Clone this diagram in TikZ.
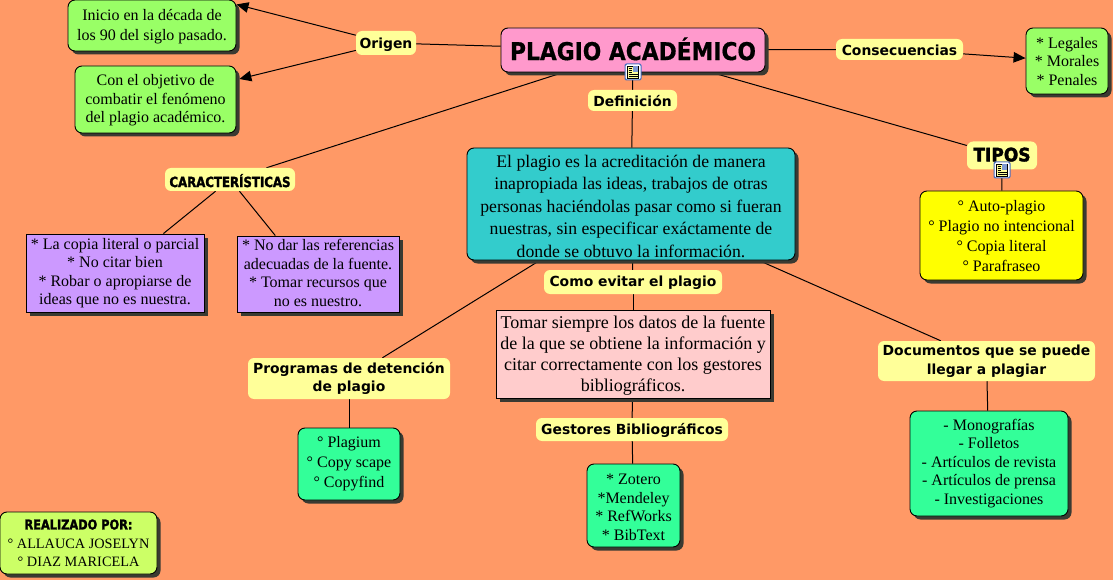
\documentclass[tikz,border=0pt]{standalone}
\usepackage{fontspec}
\setmainfont{Liberation Serif}
\newfontfamily\lblfont{DejaVu Sans}
\newfontfamily\heavyfont[FakeStretch=0.84,FakeBold=1.8]{DejaVu Sans Bold}
\newfontfamily\titlefont[FakeStretch=0.89,FakeBold=0.6]{DejaVu Sans Bold}
\newfontfamily\tiposfont[FakeStretch=0.92,FakeBold=2]{DejaVu Sans Bold}
\usetikzlibrary{shadows,backgrounds,arrows.meta}
\definecolor{bgc}{HTML}{FF9966}
\definecolor{pinkc}{HTML}{FF99CC}
\definecolor{greenc}{HTML}{99FF66}
\definecolor{tealc}{HTML}{33CCCC}
\definecolor{yelc}{HTML}{FFFF00}
\definecolor{purc}{HTML}{CC99FF}
\definecolor{rosec}{HTML}{FFCCCC}
\definecolor{seac}{HTML}{33FF99}
\definecolor{lblc}{HTML}{FFFF99}
\definecolor{limec}{HTML}{CCFF66}
\definecolor{shc}{HTML}{3A3A32}
\definecolor{iconb}{HTML}{4A6FC0}
\newcommand{\tdn}[1]{\rule{0pt}{#1pt}}
\tikzset{
  x=1pt,y=-1pt,
  boxbase/.style={draw=black,line width=0.9pt,align=center,inner sep=0pt,text=black,
    drop shadow={shadow xshift=3.5pt,shadow yshift=-3.5pt,fill=shc,opacity=1}},
  rbox/.style={boxbase,rounded corners=7pt},
  sbox/.style={boxbase,rounded corners=0pt},
  lbl/.style={fill=lblc,rounded corners=6pt,align=center,inner sep=0pt,text=black,
    font=\lblfont\bfseries\fontsize{13.9}{18.5}\selectfont},
  body/.style={font=\fontsize{16}{18.5}\selectfont},
  wide/.style={font=\fontsize{16}{20}\selectfont},
  conn/.style={draw=black,line width=1pt},
  arr/.style={conn,-{Triangle[length=12pt,width=10.5pt]}},
  sz/.style n args={2}{minimum width=#1pt,minimum height=#2pt},
  noteicon/.pic={
    \fill[iconb,rounded corners=2pt] (-8.5,-8.5) rectangle (8.5,8.5);
    \fill[white,rounded corners=1.5pt] (-7.5,-7.5) rectangle (7.5,7.5);
    \fill[lblc] (-5.5,-6) rectangle (5.5,6);
    \draw[black,line width=0.5pt] (-5.5,-6) rectangle (5.5,6);
    \fill[iconb!70] (0,-5.5) rectangle (5,0);
    \draw[black,line width=0.8pt] (-4.5,-4) -- (-1,-4) (-4.5,-2) -- (-1,-2) (-4.5,0) -- (-1,0)
      (-4.5,2) -- (4.5,2) (-4.5,4) -- (4.5,4);
  }
}
\begin{document}
\begin{tikzpicture}
\useasboundingbox (0,0) rectangle (1113,580);

\node[rbox,fill=pinkc,sz={264}{44},font=\titlefont\fontsize{24.5}{28}\selectfont] (main) at (633,50) {\raisebox{2.6pt}{PLAGIO ACADÉMICO}};
\node[lbl,sz={60}{24}] (origen) at (386,43) {\tdn{13.6}Origen};
\node[rbox,fill=greenc,sz={168}{51},font=\fontsize{16}{20}\selectfont] (inicio) at (152,25.5) {\tdn{12.9}Inicio en la década de\\los 90 del siglo pasado.};
\node[rbox,fill=greenc,sz={161}{67},body] (con) at (155.5,99.5) {\tdn{12.9}Con el objetivo de\\combatir el fenómeno\\del plagio académico.};
\node[lbl,sz={127}{21}] (cons) at (899.5,49.5) {\tdn{11.6}Consecuencias};
\node[rbox,fill=greenc,sz={82}{66},body] (leg) at (1067,61) {\tdn{11.9}* Legales\\* Morales\\* Penales};
\node[lbl,sz={89}{21}] (defi) at (632.5,100.5) {\tdn{12.6}Definición};
\node[rbox,fill=tealc,sz={328}{112},font=\fontsize{17.7}{22.5}\selectfont] (defbox) at (631,204) {\tdn{17.1}El plagio es la acreditación de manera\\inapropiada las ideas, trabajos de otras\\personas haciéndolas pasar como si fueran\\nuestras, sin especificar exáctamente de\\donde se obtuvo la información.};
\node[lbl,sz={70}{28},font=\tiposfont\fontsize{18.5}{22}\selectfont] (tipos) at (1002,155.5) {\raisebox{2pt}{TIPOS}};
\node[rbox,fill=yelc,sz={163}{89},wide] (yel) at (1001.5,235.5) {\tdn{12.9}° Auto-plagio\\° Plagio no intencional\\° Copia literal\\° Parafraseo};
\node[lbl,sz={130}{23},font=\heavyfont\fontsize{14}{18}\selectfont] (car) at (230,179.5) {\tdn{15.3}CARACTERÍSTICAS};
\node[sbox,fill=purc,sz={178}{78},body] (p1) at (115,273) {* La copia literal o parcial\\* No citar bien\\* Robar o apropiarse de\\ideas que no es nuestra.};
\node[sbox,fill=purc,sz={162}{76},body] (p2) at (318,274) {* No dar las referencias\\adecuadas de la fuente.\\* Tomar recursos que\\no es nuestro.\rule[-2pt]{0pt}{2pt}};
\node[lbl,sz={178}{24}] (como) at (633,282) {\tdn{12.6}Como evitar el plagio};
\node[sbox,fill=rosec,sz={274}{88},font=\fontsize{18}{21}\selectfont] (tomar) at (633,354) {\tdn{15.3}Tomar siempre los datos de la fuente\\de la que se obtiene la información y\\citar correctamente con los gestores\\bibliográficos.};
\node[lbl,sz={202}{41}] (prog) at (349,378.5) {Programas de detención\\de plagio};
\node[rbox,fill=seac,sz={102}{72},wide] (plag) at (349,464) {° Plagium\\° Copy scape\\° Copyfind};
\node[lbl,sz={192}{23}] (gest) at (632,429.5) {\tdn{12.6}Gestores Bibliográficos};
\node[rbox,fill=seac,sz={93}{83},body] (zot) at (633.5,505.5) {\tdn{13.9}* Zotero\\*Mendeley\\* RefWorks\\* BibText};
\node[lbl,sz={217}{40}] (docs) at (986.5,361) {Documentos que se puede\\llegar a plagiar};
\node[rbox,fill=seac,sz={158}{105},body] (mono) at (989,463.5) {- Monografías\\- Folletos\\- Artículos de revista\\- Artículos de prensa\\- Investigaciones};
\node[rbox,fill=limec,sz={157}{62},font=\fontsize{14.3}{18}\selectfont] (real) at (78.5,543) {{\heavyfont\fontsize{13.5}{18}\selectfont REALIZADO POR:}\\[1pt]° ALLAUCA JOSELYN\\° DIAZ MARICELA};

\pic at (633,72) {noteicon};
\pic at (1002,170) {noteicon};

\begin{scope}[on background layer]
\fill[bgc] (0,0) rectangle (1113,580);
\draw[conn] (main) -- (origen);
\draw[arr] (origen) -- (inicio.14.4);
\draw[arr,shorten >=3pt] (origen) -- (con);
\draw[conn] (main) -- (cons);
\draw[arr] (cons) -- (leg);
\draw[conn] (main) -- (defi);
\draw[conn] (defi) -- (defbox);
\draw[conn] (main) -- (tipos);
\draw[conn] (tipos) -- (yel);
\draw[conn] (main) -- (car);
\draw[conn] (car) -- (p1);
\draw[conn] (car) -- (p2.138.5);
\draw[conn] (defbox) -- (como);
\draw[conn] (como) -- (tomar);
\draw[conn] (defbox) -- (prog);
\draw[conn] (prog) -- (plag);
\draw[conn] (tomar) -- (gest);
\draw[conn] (gest) -- (zot);
\draw[conn] (defbox) -- (docs);
\draw[conn] (docs) -- (mono);
\end{scope}
\end{tikzpicture}
\end{document}
